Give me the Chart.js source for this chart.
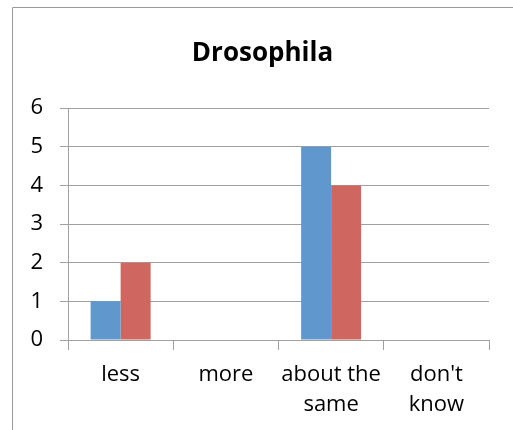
<!DOCTYPE html>
<html>
<head>
<meta charset="utf-8">
<script src="https://cdn.jsdelivr.net/npm/chart.js@4/dist/chart.umd.min.js"></script>
<style>
  html, body { margin: 0; padding: 0; background: #fff; }
  #wrap { width: 513px; height: 430px; position: relative; }
</style>
</head>
<body>
<div id="wrap"><canvas id="chart" width="513" height="430"></canvas></div>
<script>
// Chart data
const categories = ['less', 'more', ['about the', 'same'], ["don't", 'know']];
const series1 = [1, 0, 5, 0];
const series2 = [2, 0, 4, 0];
const yTicks = { min: 0, max: 6, step: 1 };

const GRID = '#a0a0a0';
const FONT = "'Open Sans', sans-serif";

// Outer frame like the Excel chart area (only left and top edges visible)
const framePlugin = {
  id: 'frame',
  beforeDraw(chart) {
    const ctx = chart.ctx;
    ctx.save();
    ctx.strokeStyle = '#9a9a9a';
    ctx.lineWidth = 1;
    ctx.beginPath();
    ctx.moveTo(12.5, 430);
    ctx.lineTo(12.5, 7.5);
    ctx.lineTo(513, 7.5);
    ctx.stroke();
    ctx.restore();
  }
};

new Chart(document.getElementById('chart'), {
  type: 'bar',
  data: {
    labels: categories,
    datasets: [
      { label: 'Series1', data: series1, backgroundColor: '#6097cc', borderWidth: 0 },
      { label: 'Series2', data: series2, backgroundColor: '#cf665f', borderWidth: 0 }
    ]
  },
  options: {
    responsive: false,
    animation: false,
    layout: { padding: { left: 12, right: 0, top: 7, bottom: 0 } },
    datasets: { bar: { categoryPercentage: 0.57, barPercentage: 1.0 } },
    plugins: {
      legend: { display: false },
      tooltip: { enabled: false },
      title: {
        display: true,
        text: 'Drosophila',
        color: '#000',
        font: { family: FONT, size: 26, weight: 'bold' },
        padding: { top: 31, bottom: 39 }
      }
    },
    scales: {
      x: {
        grid: { display: true, offset: true, drawOnChartArea: false, color: GRID, tickLength: 10 },
        border: { display: true, color: GRID },
        ticks: {
          color: '#000',
          padding: 10,
          maxRotation: 0,
          autoSkip: false,
          font: { family: FONT, size: 22, lineHeight: 1.36 }
        },
        afterFit(scale) { scale.height = 90; }
      },
      y: {
        min: yTicks.min,
        max: yTicks.max,
        grid: { color: GRID, tickLength: 8 },
        border: { display: true, color: GRID },
        ticks: {
          stepSize: yTicks.step,
          color: '#000',
          padding: 17,
          font: { family: FONT, size: 22 }
        },
        afterFit(scale) { scale.width = 56; }
      },
      // empty right margin so the plot ends where the reference plot ends
      yRight: {
        position: 'right',
        min: yTicks.min,
        max: yTicks.max,
        grid: { display: false },
        border: { display: false },
        ticks: { display: false },
        afterFit(scale) { scale.width = 24; }
      }
    }
  },
  plugins: [framePlugin]
});
</script>
</body>
</html>
